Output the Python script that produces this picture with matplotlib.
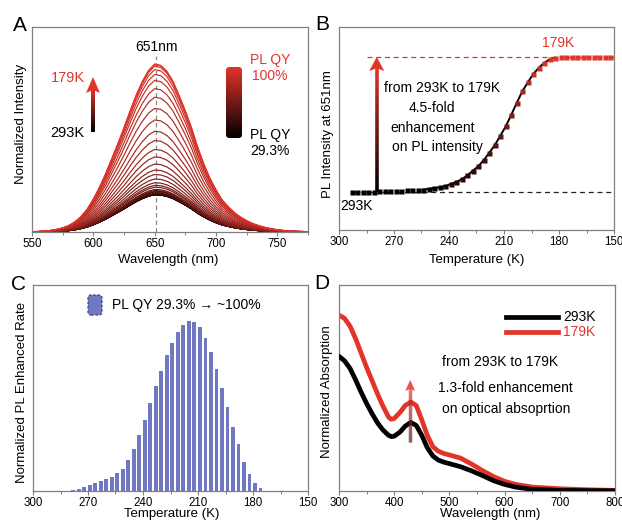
import numpy as np
import matplotlib
matplotlib.use('Agg')
import matplotlib.pyplot as plt
from matplotlib.colors import LinearSegmentedColormap
from matplotlib.collections import LineCollection
from matplotlib.patches import Polygon, FancyBboxPatch
from matplotlib.ticker import MultipleLocator
from matplotlib.lines import Line2D

plt.rcParams['font.family'] = ['Liberation Sans', 'DejaVu Sans']

# ---------------- data ----------------
# Panel B: PL intensity at 651 nm vs temperature
temps_b = [293, 290, 287, 284, 281, 278, 275, 272, 269, 266, 263, 260, 257, 254,
           251, 248, 245, 242, 239, 236, 233, 230, 227, 224, 221, 218, 215, 212,
           209, 206, 203, 200, 197, 194, 191, 188, 185, 182, 179, 176, 173, 170,
           167, 164, 161, 158, 155, 152]
pl_b = [1.00, 1.00, 1.00, 1.00, 1.00, 1.01, 1.01, 1.01, 1.02, 1.02, 1.03, 1.03,
        1.04, 1.05, 1.07, 1.09, 1.11, 1.14, 1.20, 1.25, 1.32, 1.42, 1.54, 1.66,
        1.82, 2.01, 2.21, 2.45, 2.70, 3.00, 3.31, 3.61, 3.84, 4.06, 4.22, 4.35,
        4.44, 4.48, 4.50, 4.50, 4.50, 4.50, 4.50, 4.50, 4.50, 4.50, 4.50, 4.50]

# Panel A: emission spectra (293 K -> 179 K); normalized line shape
wl_a = [550, 555, 560, 565, 570, 575, 580, 585, 590, 595, 600, 605, 610, 615,
        620, 625, 630, 635, 640, 645, 650, 655, 660, 665, 670, 675, 680, 685,
        690, 695, 700, 705, 710, 715, 720, 725, 730, 735, 740, 745, 750, 755,
        760, 765, 770, 775]
shape_a = [0.002, 0.003, 0.005, 0.009, 0.015, 0.024, 0.038, 0.060, 0.092, 0.135,
           0.195, 0.265, 0.345, 0.435, 0.525, 0.62, 0.72, 0.815, 0.895, 0.96,
           0.998, 0.99, 0.955, 0.895, 0.81, 0.72, 0.62, 0.505, 0.405, 0.32,
           0.25, 0.19, 0.15, 0.115, 0.088, 0.067, 0.05, 0.037, 0.027, 0.019,
           0.013, 0.009, 0.006, 0.004, 0.003, 0.002]
n_spectra = 39  # 293 K ... 179 K

# Panel C: normalized PL enhanced rate
temps_c = [278, 275, 272, 269, 266, 263, 260, 257, 254, 251, 248, 245, 242, 239,
           236, 233, 230, 227, 224, 221, 218, 215, 212, 209, 206, 203, 200, 197,
           194, 191, 188, 185, 182, 179, 176]
rate_c = [0.008, 0.014, 0.022, 0.033, 0.045, 0.057, 0.070, 0.085, 0.105, 0.130,
          0.180, 0.250, 0.330, 0.420, 0.520, 0.620, 0.710, 0.800, 0.875, 0.935,
          0.980, 1.000, 0.995, 0.965, 0.905, 0.820, 0.720, 0.610, 0.495, 0.380,
          0.275, 0.172, 0.100, 0.050, 0.015]

# Panel D: absorption spectra
wl_d = [300, 310, 320, 330, 340, 350, 360, 370, 380, 390, 395, 400, 410, 420,
        430, 440, 450, 460, 470, 480, 490, 500, 520, 540, 560, 580, 600, 620,
        650, 700, 750, 800]
abs_293 = [0.654, 0.632, 0.595, 0.540, 0.480, 0.425, 0.375, 0.330, 0.295, 0.270,
           0.264, 0.266, 0.285, 0.315, 0.333, 0.318, 0.270, 0.210, 0.170, 0.150,
           0.140, 0.133, 0.118, 0.098, 0.075, 0.050, 0.032, 0.019, 0.008, 0.003,
           0.002, 0.001]
abs_179 = [0.854, 0.838, 0.800, 0.740, 0.670, 0.600, 0.535, 0.470, 0.410, 0.358,
           0.348, 0.352, 0.380, 0.415, 0.432, 0.415, 0.345, 0.270, 0.215, 0.193,
           0.182, 0.175, 0.160, 0.131, 0.099, 0.070, 0.047, 0.032, 0.019, 0.011,
           0.006, 0.003]

# ---------------- style ----------------
RED = '#e3342a'
SPINE = '#808080'
BAR = '#7078c2'
cmap = LinearSegmentedColormap.from_list('kr', ['#000000', RED])

W, H = 622, 523
fig = plt.figure(figsize=(W / 100, H / 100), dpi=100)


def axpx(l, t, r, b):
    return fig.add_axes([l / W, 1 - b / H, (r - l) / W, (b - t) / H])


def ft(x, y, s, **kw):
    kw.setdefault('ha', 'center')
    kw.setdefault('va', 'center')
    return fig.text(x / W, 1 - y / H, s, **kw)


def style(ax, major, minor):
    for sp in ax.spines.values():
        sp.set_color(SPINE)
        sp.set_linewidth(0.9)
    ax.set_yticks([])
    ax.xaxis.set_major_locator(MultipleLocator(major))
    ax.xaxis.set_minor_locator(MultipleLocator(minor))
    ax.tick_params(axis='x', which='major', direction='out', length=3, width=0.8,
                   color=SPINE, labelsize=8.3, pad=1.2)
    ax.tick_params(axis='x', which='minor', direction='out', length=2, width=0.7,
                   color=SPINE)


def grad_arrow(ax, x, y0, y1, head_len, head_w, shaft, c0=0.0, c1=1.0, alpha=1.0):
    bb = ax.get_position()
    wpx, hpx = bb.width * W, bb.height * H
    hl = head_len / hpx
    hw = head_w / 2 / wpx
    n = 120
    ys = np.linspace(y0, y1 - hl * 0.7, n + 1)
    segs = [[(x, ys[i]), (x, ys[i + 1])] for i in range(n)]
    cols = cmap(np.linspace(c0, c1, n))
    cols[:, 3] = alpha
    lc = LineCollection(segs, colors=cols, linewidths=shaft * 0.72,
                        transform=ax.transAxes, capstyle='butt', zorder=5)
    ax.add_collection(lc)
    head = Polygon([(x, y1), (x + hw, y1 - hl), (x, y1 - hl * 0.8), (x - hw, y1 - hl)],
                   closed=True, facecolor=cmap(c1), edgecolor='none',
                   transform=ax.transAxes, zorder=6, alpha=alpha)
    ax.add_patch(head)


# ---------------- Panel A ----------------
axA = axpx(32, 27, 308, 232)
style(axA, 50, 25)
shape = np.array(shape_a)
peaks = pl_b[:n_spectra]
for i in range(n_spectra):
    frac = i / (n_spectra - 1)
    axA.plot(wl_a, shape * peaks[i], color=cmap(frac), lw=0.85, zorder=2 + i * 0.01)
axA.set_xlim(550, 775)
axA.set_ylim(0, 5.48)
axA.plot([651, 651], [0, 0.86 * 5.48], ls=(0, (3.5, 2.5)), color='#888888', lw=0.9,
         zorder=1)
grad_arrow(axA, (93 - 32) / 276, (232 - 132) / 205, (232 - 77) / 205, 16, 14, 4)
# gradient bar
cb = fig.add_axes([226 / W, 1 - 138 / H, 16 / W, 71 / H])
cb.imshow(np.linspace(1, 0, 200).reshape(-1, 1), cmap=cmap, aspect='auto',
          extent=[0, 1, 0, 1])
cb.set_xlim(0, 1)
cb.set_ylim(0, 1)
cb.axis('off')
clip = FancyBboxPatch((0, 0), 1, 1, boxstyle='round,pad=0,rounding_size=0.22',
                      mutation_aspect=16 / 71, transform=cb.transAxes,
                      facecolor='none', edgecolor='none')
cb.add_patch(clip)
cb.images[0].set_clip_path(clip)

ft(19.5, 25.5, 'A', fontsize=15)
ft(156, 47, '651nm', fontsize=10)
ft(67.5, 77.5, '179K', fontsize=10.5, color=RED)
ft(67.5, 133, '293K', fontsize=10.5, color='black')
ft(270, 60, 'PL QY', fontsize=10, color=RED)
ft(270, 76, '100%', fontsize=10, color=RED)
ft(270, 135, 'PL QY', fontsize=10, color='black')
ft(270, 151, '29.3%', fontsize=10, color='black')
ft(20.7, 124, 'Normalized Intensity', fontsize=9.5, rotation=90)
ft(168, 260, 'Wavelength (nm)', fontsize=9.5)

# ---------------- Panel B ----------------
axB = axpx(339, 27, 614, 230)
style(axB, 30, 15)
axB.set_xlim(300, 150)
axB.set_ylim(0, 5.28)
axB.plot([284.5, 150], [4.5, 4.5], ls=(0, (4, 3)), color=RED, lw=0.9, zorder=1)
axB.plot([293, 150], [1.0, 1.0], ls=(0, (4, 3)), color='#222222', lw=0.9, zorder=1)
fit_T = [t for t in temps_b if 182 <= t <= 254]
fit_v = [v for t, v in zip(temps_b, pl_b) if 182 <= t <= 254]
axB.plot(fit_T, fit_v, color='black', lw=1.4, zorder=2)
for t, v in zip(temps_b, pl_b):
    frac = min(max((v - 1.0) / 3.5, 0), 1) ** 1.15
    axB.plot(t, v, 's', ms=3.6, color=cmap(0.1 + 0.9 * frac) if frac > 0.02 else 'black',
             mec='none', zorder=3)
grad_arrow(axB, (300 - 279.4) / 150, 1.0 / 5.28, 4.5 / 5.28, 14, 15, 3.6)
ft(322.5, 25, 'B', fontsize=15)
ft(558.5, 43, '179K', fontsize=10, color=RED)
ft(356, 206, '293K', fontsize=10)
ft(442, 88.5, 'from 293K to 179K', fontsize=10)
ft(431.5, 108, '4.5-fold', fontsize=10)
ft(433, 127.5, 'enhancement', fontsize=10)
ft(437.5, 146.5, 'on PL intensity', fontsize=10)
ft(327.7, 134, 'PL Intensity at 651nm', fontsize=9.5, rotation=90)
ft(477, 260, 'Temperature (K)', fontsize=9.5)

# ---------------- Panel C ----------------
axC = axpx(33, 285, 308, 491)
style(axC, 30, 15)
axC.bar(temps_c, rate_c, width=2.0, color=BAR, edgecolor='none')
axC.set_xlim(300, 150)
axC.set_ylim(0, 1.215)
leg = FancyBboxPatch((88 / W, 1 - 315 / H), 14 / W, 20 / H,
                     boxstyle='round,pad=0,rounding_size=0.005',
                     transform=fig.transFigure, facecolor=BAR,
                     edgecolor='#3a3f80', lw=0.9, ls=(0, (2, 1.5)))
fig.add_artist(leg)
ft(112, 304.5, 'PL QY 29.3% \u2192 ~100%', fontsize=10, ha='left')
ft(19, 284, 'C', fontsize=15)
ft(22.3, 392, 'Normalized PL Enhanced Rate', fontsize=9.5, rotation=90)
ft(171.7, 514.5, 'Temperature (K)', fontsize=9.5)

# ---------------- Panel D ----------------
axD = axpx(339, 285, 615, 491)
style(axD, 100, 50)
axD.plot(wl_d, abs_179, color=RED, lw=3.4, solid_capstyle='round', zorder=2)
axD.plot(wl_d, abs_293, color='black', lw=3.4, solid_capstyle='round', zorder=3)
axD.set_xlim(300, 800)
axD.set_ylim(0, 1.0)
grad_arrow(axD, (429 - 300) / 500, 0.238, 0.539, 11, 10, 3.4, c0=0.35, c1=1.0,
           alpha=0.85)
fig.add_artist(Line2D([506 / W, 558 / W], [1 - 317 / H, 1 - 317 / H], color='black',
                      lw=3.4, transform=fig.transFigure))
fig.add_artist(Line2D([506 / W, 558 / W], [1 - 332 / H, 1 - 332 / H], color=RED,
                      lw=3.4, transform=fig.transFigure))
ft(563, 317, '293K', fontsize=10, ha='left')
ft(563, 332, '179K', fontsize=10, ha='left', color=RED)
ft(500, 362, 'from 293K to 179K', fontsize=10)
ft(505, 388, '1.3-fold enhancement', fontsize=10)
ft(506.5, 409, 'on optical absoprtion', fontsize=10)
ft(321.5, 283.5, 'D', fontsize=15)
ft(326.7, 392, 'Normalized Absorption', fontsize=9.5, rotation=90)
ft(490, 514.5, 'Wavelength (nm)', fontsize=9.5)

fig.savefig('out.png', dpi=100)
